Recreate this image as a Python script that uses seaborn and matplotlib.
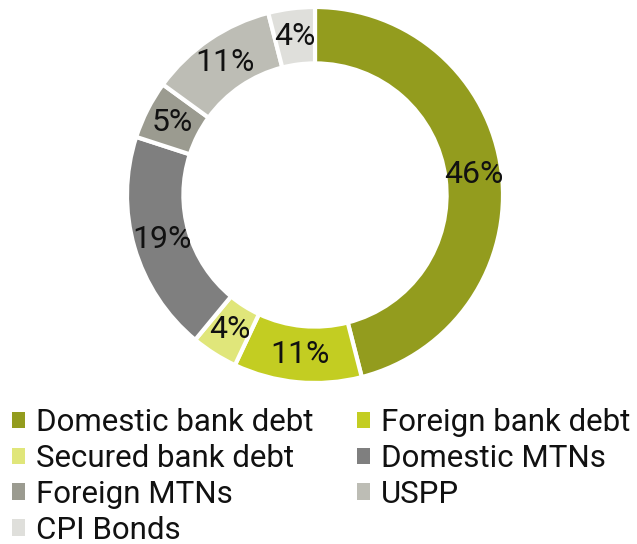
import matplotlib
matplotlib.use("Agg")
import matplotlib.pyplot as plt
import seaborn as sns
from matplotlib.patches import Patch

categories = ["Domestic bank debt", "Foreign bank debt", "Secured bank debt",
              "Domestic MTNs", "Foreign MTNs", "USPP", "CPI Bonds"]
values = [46, 11, 4, 19, 5, 11, 4]
colors = ["#939C1E", "#C3CD22", "#E0E67A", "#7F7F7F", "#9B9B90", "#BDBDB5", "#DFDFDB"]

sns.set_theme(style="white")
plt.rcParams['font.family'] = ['Roboto', 'DejaVu Sans']

W, H = 637, 544
fig = plt.figure(figsize=(W / 100, H / 100), dpi=100)
cx, cy, R = 315, 195, 188
ax = fig.add_axes([(cx - R) / W, (H - cy - R) / H, 2 * R / W, 2 * R / H])

wedges, texts, autotexts = ax.pie(
    values, colors=colors, startangle=90, counterclock=False,
    radius=1.0, autopct=lambda p: f"{p:.0f}%", pctdistance=0.85,
    wedgeprops=dict(width=0.30, edgecolor="white", linewidth=3),
    textprops=dict(fontsize=23, color="#111111"))
ax.set_xlim(-1, 1)
ax.set_ylim(-1, 1)
ax.set_aspect("equal")
ax.axis("off")

handles = [Patch(facecolor=c, edgecolor="none") for c in colors]
order = [0, 2, 4, 6, 1, 3, 5]
leg = fig.legend([handles[i] for i in order], [categories[i] for i in order],
                 loc="upper left",
                 bbox_to_anchor=(12 / W, (H - 408) / H), ncol=2, frameon=False,
                 fontsize=22.5, handlelength=0.43, handleheight=0.43,
                 handletextpad=0.33, columnspacing=1.4, labelspacing=0.22,
                 borderaxespad=0, borderpad=0, labelcolor="#111111")

fig.savefig("out.png", dpi=100)
